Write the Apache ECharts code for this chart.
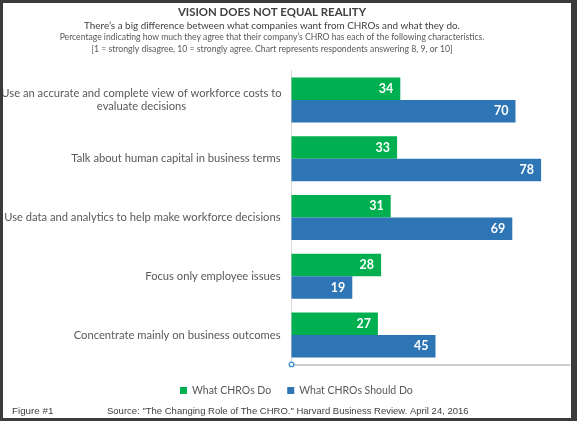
<!DOCTYPE html>
<html>
<head>
<meta charset="utf-8">
<title>Vision does not equal reality</title>
<script src="https://cdn.jsdelivr.net/npm/echarts@6/dist/echarts.min.js"></script>
<style>
  html, body { margin: 0; padding: 0; background: #fff; }
  #wrap { position: relative; width: 577px; height: 421px; }
  #chart { width: 577px; height: 421px; }
  #frame {
    position: absolute; left: 0; top: 0; width: 577px; height: 421px;
    box-sizing: border-box; border-style: solid; border-color: #3b3b3b;
    border-width: 3px 6px 3px 3px; pointer-events: none;
  }
</style>
</head>
<body>
<div id="wrap">
  <div id="chart"></div>
  <div id="frame"></div>
</div>
<script>
// ─── Datos ─────────────────────────────────────────────────────────────────────
const categories = [
  'Use an accurate and complete view of workforce costs to\nevaluate decisions',
  'Talk about human capital in business terms',
  'Use data and analytics to help make workforce decisions',
  'Focus only employee issues',
  'Concentrate mainly on business outcomes',
]
const seriesNames  = ['What CHROs Do', 'What CHROs Should Do']
const chrosDo      = [34, 33, 31, 28, 27]
const chrosShould  = [70, 78, 69, 19, 45]

const titleLines = [
  'VISION DOES NOT EQUAL REALITY',
  'There\u2019s a big difference between what companies want from CHROs and what they do.',
  'Percentage indicating how much they agree that their company\u2019s CHRO has each of the following characteristics.',
  '[1 = strongly disagree, 10 = strongly agree. Chart represents respondents answering 8, 9, or 10]',
]
const footNote = 'Figure #1'
const source   = 'Source: "The Changing Role of The CHRO." Harvard Business Review. April 24, 2016'

// ─── Estilo ────────────────────────────────────────────────────────────────────
const FONT  = 'Lato, "Open Sans", sans-serif'
const ARIAL = '"Liberation Sans", Arial, sans-serif'
const GREEN = '#00b050'
const BLUE  = '#2e75b6'

const titleStyle = [
  { y: 12.5, size: 11.4, weight: 'bold',   color: '#404040' },
  { y: 25.5, size: 9.9,  weight: 'normal', color: '#404040' },
  { y: 37.5, size: 8.6,  weight: 'normal', color: '#595959' },
  { y: 49.5, size: 8.7,  weight: 'normal', color: '#595959' },
]

const barLabel = {
  show: true, position: 'insideRight', distance: 7,
  color: '#fff', fontWeight: 'bold', fontSize: 12.5, fontFamily: FONT,
}

const chart = echarts.init(document.getElementById('chart'), null, { renderer: 'canvas' })

chart.setOption({
  animation: false,
  backgroundColor: '#fff',
  grid: { left: 291.5, top: 70.6, width: 278.4, height: 293.8, containLabel: false, outerBoundsMode: 'none' },
  xAxis: {
    type: 'value', min: 0, max: 87,
    axisLine: { show: true, lineStyle: { color: '#bfbfbf', width: 1.5 } },
    axisTick: { show: false }, axisLabel: { show: false }, splitLine: { show: false },
  },
  yAxis: {
    type: 'category', inverse: true, data: categories,
    axisLine: { show: true, lineStyle: { color: '#d9d9d9', width: 1 } },
    axisTick: { show: false },
    axisLabel: {
      margin: 11, color: '#595959', fontSize: 11.2, fontFamily: FONT, lineHeight: 13.5,
      formatter: v => v.includes('\n') ? v.split('\n').map(l => '{c|' + l + '}').join('\n') : v,
      rich: { c: { width: 278, align: 'center', color: '#595959', fontSize: 11.2, fontFamily: FONT, lineHeight: 13.5 } },
    },
  },
  legend: {
    data: seriesNames, left: 180, top: 385, padding: 0, icon: 'rect',
    itemWidth: 7, itemHeight: 7, itemGap: 16,
    textStyle: { color: '#595959', fontSize: 10.5, fontFamily: FONT },
  },
  series: [
    { name: seriesNames[0], type: 'bar', data: chrosDo, itemStyle: { color: GREEN },
      barWidth: 22.5, barGap: '0%', label: barLabel },
    { name: seriesNames[1], type: 'bar', data: chrosShould, itemStyle: { color: BLUE },
      barWidth: 22.5, barGap: '0%', label: barLabel },
  ],
  graphic: [
    ...titleLines.map((t, i) => ({
      type: 'text', x: 272, y: titleStyle[i].y,
      style: {
        text: t, textAlign: 'center', textVerticalAlign: 'middle',
        fontSize: titleStyle[i].size, fontWeight: titleStyle[i].weight,
        fontFamily: FONT, fill: titleStyle[i].color,
      },
    })),
    { type: 'text', x: 12, y: 411, style: { text: footNote, textVerticalAlign: 'middle',
      fontSize: 9.8, fontFamily: ARIAL, fill: '#404040' } },
    { type: 'text', x: 107, y: 411, style: { text: source, textVerticalAlign: 'middle',
      fontSize: 9.5, fontFamily: ARIAL, fill: '#404040' } },
    // marcador de selección en el origen del eje
    { type: 'circle', shape: { cx: 291.5, cy: 364.4, r: 2.3 },
      style: { fill: '#fff', stroke: '#3b8fd9', lineWidth: 1.3 }, z: 100 },
  ],
})
</script>
</body>
</html>
